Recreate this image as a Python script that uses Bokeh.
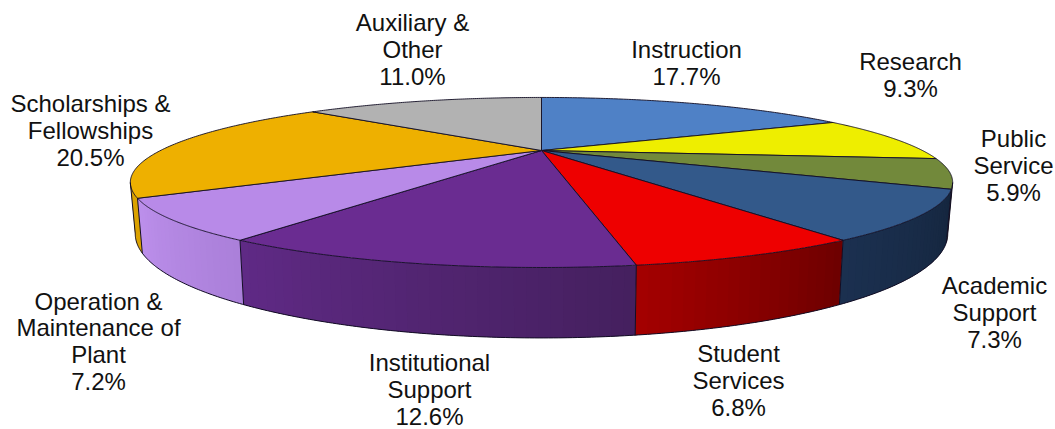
import numpy as np
from bokeh.plotting import figure
from bokeh.models import Range1d
from bokeh.core.properties import value
from bokeh.embed import file_html
from bokeh.resources import INLINE

# ---- data ----
categories = ["Instruction", "Research", "Public Service", "Academic Support", "Student Services",
              "Institutional Support", "Operation & Maintenance of Plant",
              "Scholarships & Fellowships", "Auxiliary & Other"]
labelled_pct = [17.7, 9.3, 5.9, 7.3, 6.8, 12.6, 7.2, 20.5, 11.0]
drawn_share = [17.6, 9.1, 5.6, 8.6, 6.6, 11.6, 7.1, 20.3, 13.5]
top_colors = ["#4f81c6", "#eeee00", "#72893b", "#33598a", "#ee0000",
              "#6a2c91", "#b88ae8", "#eeb000", "#b2b2b2"]

# ---- styles / layout ----
side_left = {2: "#5a6e2e", 3: "#1b3050", 4: "#a60000", 5: "#602a86", 6: "#bd90ec", 7: "#dba200"}
side_right = {2: "#4a5a25", 3: "#15263e", 4: "#6e0000", 5: "#45205f", 6: "#ab80da", 7: "#dba200"}
label_lines = [["Instruction"], ["Research"], ["Public", "Service"], ["Academic", "Support"],
               ["Student", "Services"], ["Institutional", "Support"],
               ["Operation &", "Maintenance of", "Plant"], ["Scholarships &", "Fellowships"],
               ["Auxiliary &", "Other"]]
label_cx = [686, 910, 1013, 994, 738, 429, 98, 90, 412]
label_last_y = [76, 88, 192, 339, 407, 416, 381, 157, 76]
LINE_H = 26.8
CX, CY, A, B, K = 541.0, 150.0, 381.0, 73.0, 0.376


def project(theta):
    u, v = np.sin(theta), np.cos(theta)
    den = 1 + K * v
    return CX + A * u / den, CY - B * v / den


def lower(x, y):
    depth = 55 + (y - 198) * 15 / 67
    return CX + (x - CX) * 0.988, y + depth


def hex2rgb(h):
    return np.array([int(h[i:i + 2], 16) for i in (1, 3, 5)], float)


def mix(a, b, t):
    c = hex2rgb(a) * (1 - t) + hex2rgb(b) * t
    return "#%02x%02x%02x" % tuple(int(round(n)) for n in c)


p = figure(width=1055, height=429, output_backend="svg", toolbar_location=None,
           x_range=Range1d(0, 1055), y_range=Range1d(429, 0), min_border=0)
p.axis.visible = False
p.grid.visible = False
p.outline_line_color = None
p.background_fill_color = "white"

total = sum(drawn_share)
edges = np.concatenate([[0], np.cumsum(drawn_share)]) / total * 2 * np.pi
th_right = np.pi - np.arccos(K)          # silhouette, right
th_left = np.pi + np.arccos(K)           # silhouette, left
EDGE = "#120d24"

# side wall: overlapping strips, painted right to left, shading changes along it
sx, sy, sc = [], [], []
for i in range(len(drawn_share)):
    a, b = max(edges[i], th_right), min(edges[i + 1], th_left)
    if b <= a:
        continue
    n = max(2, int((b - a) / 0.02))
    ts = np.linspace(a, b, n + 1)
    for j in range(n):
        seg = np.linspace(ts[j], b if j == n - 1 else ts[j + 1] + (b - a) / n, 6)
        x, y = project(seg)
        lx, ly = lower(x, y)
        sx.append(list(x) + list(lx[::-1]))
        sy.append(list(y) + list(ly[::-1]))
        sc.append(mix(side_right[i], side_left[i], j / n))
p.patches(sx, sy, fill_color=sc, line_color=None)

# top faces
fx, fy = [], []
for i in range(len(drawn_share)):
    ts = np.linspace(edges[i], edges[i + 1], 120)
    x, y = project(ts)
    fx.append([CX] + list(x))
    fy.append([CY] + list(y))
p.patches(fx, fy, fill_color=top_colors, line_color=EDGE, line_width=1, line_alpha=0.9)

# wall outline
ts = np.linspace(th_right, th_left, 300)
bx, by = lower(*project(ts))
p.line(bx, by, line_color=EDGE, line_width=1)
vx, vy = [], []
for t in [th_right, th_left] + [e for e in edges[1:-1] if th_right < e < th_left]:
    x, y = project(t)
    lx, ly = lower(x, y)
    vx.append([x, lx])
    vy.append([y, ly])
p.multi_line(vx, vy, line_color=EDGE, line_width=1)

# labels
tx, ty, tt = [], [], []
for i, lines in enumerate(label_lines):
    rows = lines + ["%.1f%%" % labelled_pct[i]]
    for j, r in enumerate(rows):
        tx.append(label_cx[i])
        ty.append(label_last_y[i] - (len(rows) - 1 - j) * LINE_H)
        tt.append(r)
p.text(tx, ty, text=tt, text_font=value("Liberation Sans"), text_font_size="24px",
       text_color="#111111", text_align="center", text_baseline="middle")

open("out.html", "w").write(file_html(p, INLINE))
